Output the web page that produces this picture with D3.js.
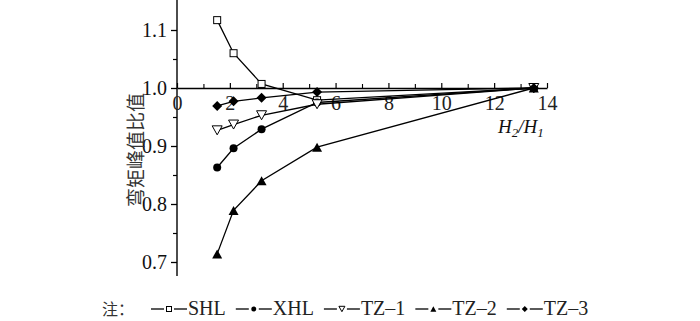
<!DOCTYPE html>
<html><head><meta charset="utf-8">
<script src="https://cdn.jsdelivr.net/npm/d3@7"></script>
<style>html,body{margin:0;padding:0;background:#fff;}</style>
</head><body>
<svg id="c" width="700" height="321"></svg>
<script>
const xVals = [1.52, 2.14, 3.2, 5.3, 13.5];
const shl  = [1.117, 1.060, 1.007, 0.979, 1.0];
const xhl  = [0.863, 0.896, 0.929, 0.975, 1.0];
const tz1  = [0.927, 0.937, 0.953, 0.972, 1.0];
const tz2  = [0.714, 0.789, 0.840, 0.898, 1.0];
const tz3  = [0.969, 0.977, 0.983, 0.993, 1.0];
const seriesNames = ["SHL", "XHL", "TZ–1", "TZ–2", "TZ–3"];
const seriesShapes = ["square", "circle", "tridown", "triup", "diamond"];
const seriesValues = [shl, xhl, tz1, tz2, tz3];
const xTicks = [0, 2, 4, 6, 8, 10, 12, 14];
const xMinor = [1, 3, 5, 7, 9, 11, 13];
const yTicks = [0.7, 0.8, 0.9, 1.0, 1.1];
const yMinor = [0.75, 0.85, 0.95, 1.05];
const yLabel = "弯矩峰值比值";
const noteLabel = "注：";

const svg = d3.select("#c");
const serif = "Liberation Serif, Times New Roman, serif";
const cjk = "Noto Sans CJK SC, sans-serif";

const x = d3.scaleLinear().domain([0, 14]).range([177, 547]);
const y = d3.scaleLinear().domain([0.7, 1.1]).range([262, 30]);

// Y axis
svg.append("line").attr("x1", 177).attr("x2", 177).attr("y1", 0).attr("y2", 276)
  .attr("stroke", "#000").attr("stroke-width", 1.4);
const yAx = svg.append("g").attr("transform", "translate(177,0)")
  .call(d3.axisLeft(y).tickValues(yTicks).tickFormat(d3.format(".1f")).tickSize(6).tickPadding(4));
yAx.select(".domain").remove();
yAx.selectAll("line").attr("stroke-width", 1.3);
yAx.selectAll("text").style("font-family", serif).style("font-size", "20px").attr("fill", "#111");
const yMi = svg.append("g").attr("transform", "translate(177,0)")
  .call(d3.axisLeft(y).tickValues(yMinor).tickFormat("").tickSize(4));
yMi.select(".domain").remove();
yMi.selectAll("line").attr("stroke-width", 1.2);

// X axis at y=1.0
const y0 = y(1.0);
const xAx = svg.append("g").attr("transform", `translate(0,${y0})`)
  .call(d3.axisBottom(x).tickValues(xTicks).tickSizeInner(-5).tickSizeOuter(0).tickPadding(8));
xAx.select(".domain").attr("stroke-width", 1.4);
xAx.selectAll("line").attr("stroke-width", 1.2);
xAx.selectAll("text").style("font-family", serif).style("font-size", "20px").attr("fill", "#222");
const xMi = svg.append("g").attr("transform", `translate(0,${y0})`)
  .call(d3.axisBottom(x).tickValues(xMinor).tickFormat("").tickSizeInner(-4).tickSizeOuter(0));
xMi.select(".domain").remove();
xMi.selectAll("line").attr("stroke-width", 1.1);

// x axis title
const xt = svg.append("text").attr("x", 498).attr("y", 133)
  .style("font-family", serif).style("font-size", "19px").attr("font-style", "italic").attr("fill", "#111");
xt.append("tspan").text("H");
xt.append("tspan").style("font-size", "13px").attr("dy", 4).text("2");
xt.append("tspan").attr("dy", -4).text("/H");
xt.append("tspan").style("font-size", "13px").attr("dy", 4).text("1");

// y axis title
svg.append("text").attr("transform", "translate(143,150) rotate(-90)")
  .attr("text-anchor", "middle").style("font-family", cjk).style("font-size", "19px")
  .attr("fill", "#333").text(yLabel);

// marker drawing
function marker(g, shape, cx, cy, s) {
  if (shape === "square") {
    g.append("rect").attr("x", cx - s / 2).attr("y", cy - s / 2).attr("width", s).attr("height", s)
      .attr("fill", "#fff").attr("stroke", "#000").attr("stroke-width", 1);
  } else if (shape === "circle") {
    g.append("circle").attr("cx", cx).attr("cy", cy).attr("r", s / 2).attr("fill", "#000");
  } else if (shape === "tridown") {
    const h = s * 0.9;
    g.append("path").attr("d", `M${cx - s / 2},${cy - h / 2}L${cx + s / 2},${cy - h / 2}L${cx},${cy + h / 2}Z`)
      .attr("fill", "#fff").attr("stroke", "#000").attr("stroke-width", 1);
  } else if (shape === "triup") {
    const h = s * 0.9;
    g.append("path").attr("d", `M${cx - s / 2},${cy + h / 2}L${cx + s / 2},${cy + h / 2}L${cx},${cy - h / 2}Z`)
      .attr("fill", "#000");
  } else if (shape === "diamond") {
    g.append("path").attr("d", `M${cx},${cy - s / 2}L${cx + s / 2},${cy}L${cx},${cy + s / 2}L${cx - s / 2},${cy}Z`)
      .attr("fill", "#000");
  }
}
const sizes = {square: 7, circle: 8, tridown: 10, triup: 10, diamond: 10};

const line = d3.line().x((d, i) => x(xVals[i])).y(d => y(d));
seriesValues.forEach((vals, si) => {
  svg.append("path").datum(vals).attr("d", line).attr("fill", "none")
    .attr("stroke", "#000").attr("stroke-width", 1.3);
});
seriesValues.forEach((vals, si) => {
  const g = svg.append("g");
  vals.forEach((v, i) => marker(g, seriesShapes[si], x(xVals[i]), y(v), sizes[seriesShapes[si]]));
});

// legend
const ly = 309, lb = 315;
svg.append("text").attr("x", 102).attr("y", lb).style("font-family", cjk).style("font-size", "16px")
  .attr("fill", "#333").text(noteLabel);
let lx = 151;
const lsizes = {square: 5, circle: 5, tridown: 6, triup: 6, diamond: 6};
seriesNames.forEach((name, si) => {
  const g = svg.append("g");
  const cx = lx + 18;
  g.append("line").attr("x1", lx).attr("x2", cx - 5).attr("y1", ly).attr("y2", ly).attr("stroke", "#000").attr("stroke-width", 1.3);
  g.append("line").attr("x1", cx + 5).attr("x2", lx + 36).attr("y1", ly).attr("y2", ly).attr("stroke", "#000").attr("stroke-width", 1.3);
  marker(g, seriesShapes[si], cx, ly, lsizes[seriesShapes[si]]);
  const t = g.append("text").attr("x", lx + 37).attr("y", lb).style("font-family", serif)
    .style("font-size", "20px").attr("fill", "#222").text(name);
  lx = lx + 37 + t.node().getComputedTextLength() + 10;
});
</script>
</body></html>
